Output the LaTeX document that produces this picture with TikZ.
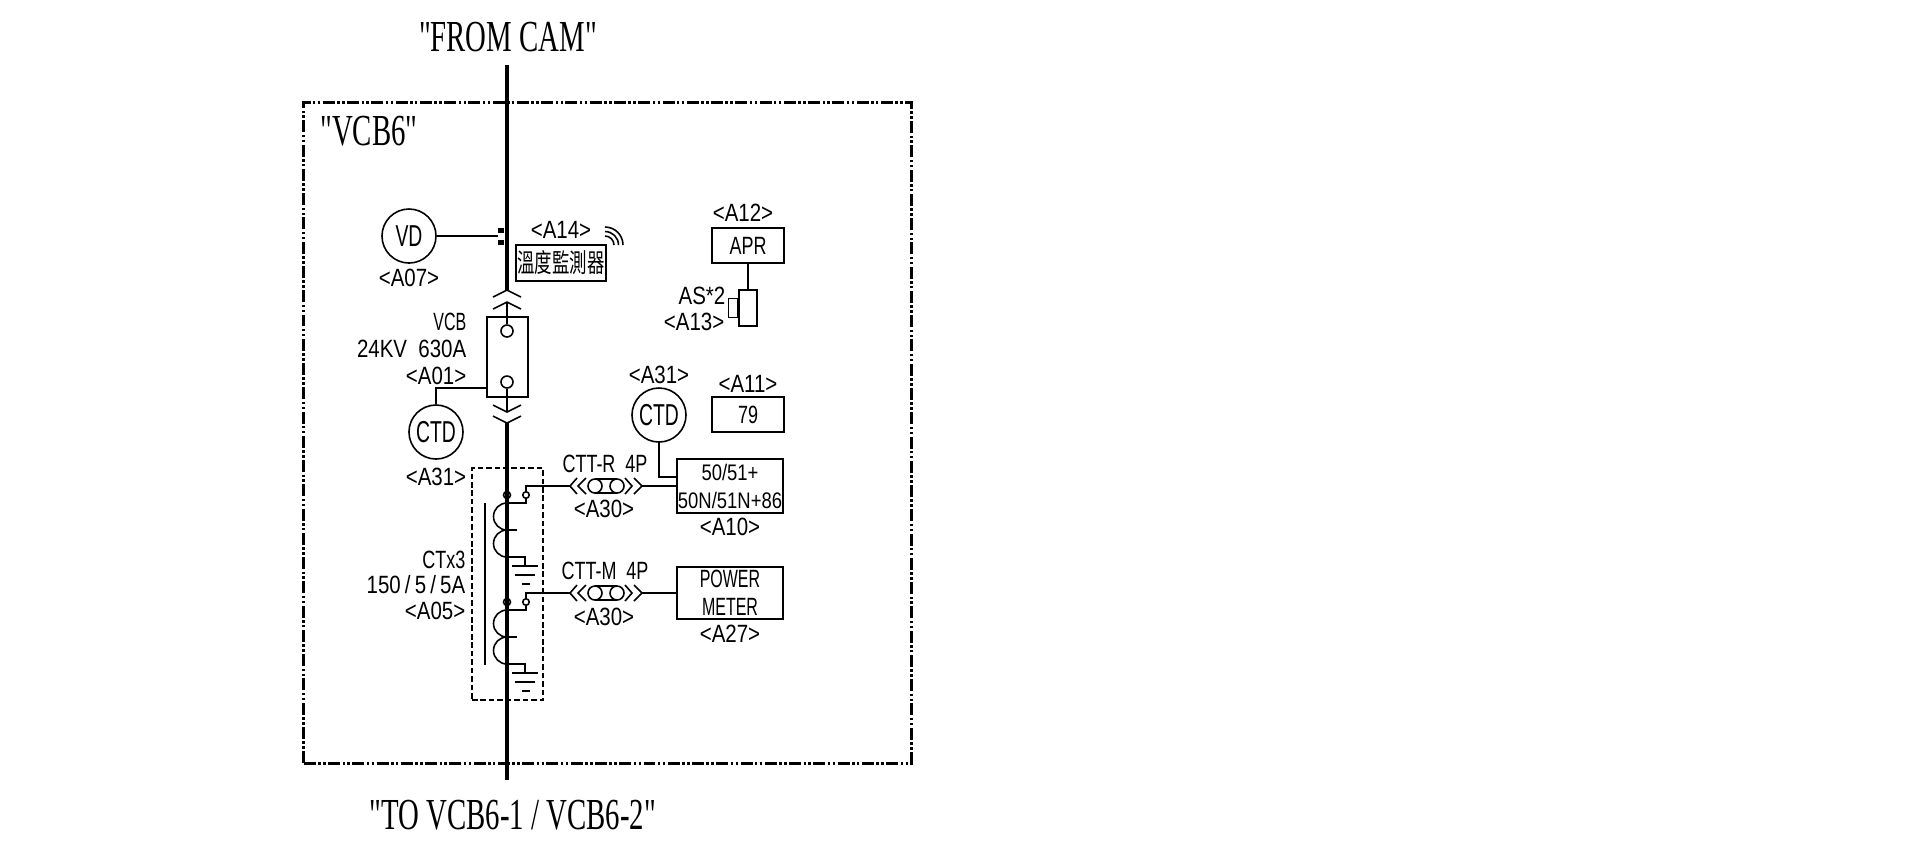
\documentclass[tikz,border=0pt]{standalone}
\usepackage{fontspec}
\setmainfont{Liberation Serif}
\newfontfamily\cadfont[FakeStretch=0.72]{Liberation Sans}
\newfontfamily\cadwide[FakeStretch=0.82]{Liberation Sans}
\newfontfamily\cadnarrow[FakeStretch=0.64]{Liberation Sans}
\newfontfamily\titlefont[FakeStretch=0.65]{Liberation Serif}
\newfontfamily\cjkfont[FakeStretch=0.67]{Noto Sans CJK TC}
\usetikzlibrary{positioning}

\tikzset{
    wire/.style={line width=0.45pt},
    tag/.style={font=\cadwide\fontsize{7.1pt}{8.2pt}\selectfont, inner sep=0pt, align=center},
    flush/.style={font=\cadfont\fontsize{7.1pt}{8.2pt}\selectfont, inner sep=0pt, align=right},
    title/.style={font=\titlefont\fontsize{12.6pt}{14pt}\selectfont, inner sep=0pt},
    meter/.style={circle, draw, wire, minimum size=0.54cm, inner sep=0pt, font=\cadnarrow\fontsize{8.6pt}{10pt}\selectfont},
    relaybox/.style={rectangle, draw, wire, inner sep=0pt, align=center, font=\cadfont\fontsize{7.1pt}{8.0pt}\selectfont},
    terminal/.style={circle, draw, wire, fill=white, minimum size=0.12cm, inner sep=0pt},
    term/.style={circle, draw, wire, fill=white, minimum size=0.065cm, inner sep=0pt},
    chev/.pic={\draw[wire] (-14,7) -- (0,0) -- (14,7);},
    plugset/.pic={
        \coordinate (-west) at (0,0);
        \coordinate (-east) at (72,0);
        \draw[wire] (7,-8) -- (0,0) -- (7,8);
        \draw[wire] (16,-8) -- (8,0) -- (16,8);
        \draw[wire] (25,-7) -- (47,-7);
        \draw[wire] (25,7) -- (47,7);
        \draw[wire, fill=white] (25,0) circle[radius=7];
        \draw[wire, fill=white] (47,0) circle[radius=7];
        \draw[wire] (55,-8) -- (62,0) -- (55,8);
        \draw[wire] (64,-8) -- (72,0) -- (64,8);
    },
    ctcoil/.pic={
        \draw[wire] (0,0) circle[radius=3.5];
        \node[term] (-term) at (19,0) {};
        \draw[wire] (-term) -- (19,8) -- (0,8) arc[start angle=270, end angle=90, radius=13.5] arc[start angle=270, end angle=90, radius=13.5] -- (18,62) -- (18,71);
        \draw[wire] (0,35) -- (10,35);
        \draw[wire] (5,71) -- (31,71);
        \draw[wire] (8,80) -- (28,80);
        \draw[wire] (15,89) -- (23,89);
    }
}

\begin{document}
\begin{tikzpicture}[x=0.01cm, y=-0.01cm]
    \useasboundingbox (0,0) rectangle (1920,850);

    % outer frame and titles
    \node[draw, line width=0.85pt, dash pattern=on 3.4pt off 0.7pt on 0.7pt off 0.7pt on 0.7pt off 0.7pt, minimum width=6.07cm, minimum height=6.6cm, inner sep=0pt] (panel) at (607.5,433) {};
    \node[title] (fromcam) at (508,37) {"FROM CAM"};
    \node[title] (panelname) at (369,131) {"VCB6"};
    \node[title] (tovcb) at (513,815) {"TO VCB6-1 / VCB6-2"};

    % bus
    \coordinate (busin) at (507,65);
    \coordinate (bustop) at (507,290);
    \coordinate (busbot) at (507,423);
    \coordinate (busout) at (507,780);
    \draw[line width=1.3pt] (busin) -- (bustop);
    \draw[line width=1.3pt] (busbot) -- (busout);

    % VD
    \node[meter] (vd) at (409,236) {VD};
    \node[tag, below=0.05cm of vd] (a07) {<A07>};
    \node[inner sep=0pt, fill, minimum width=0.055cm, minimum height=0.05cm] (tapa) at (501,230) {};
    \node[inner sep=0pt, fill, minimum width=0.055cm, minimum height=0.05cm] (tapb) at (501,242) {};
    \coordinate (tap) at (498,236);
    \draw[wire] (vd) -- (tap);

    % temperature monitor
    \node[relaybox, minimum width=0.9cm, minimum height=0.36cm, font=\cjkfont\fontsize{7.4pt}{8pt}\selectfont] (temp) at (561,263) {溫度監測器};
    \node[tag, above=0.05cm of temp] (a14) {<A14>};
    \foreach \r in {9,13.5,18}
        \draw[wire] (605,245-\r) arc[start angle=270, end angle=360, radius=\r];

    % VCB
    \node[rectangle, draw, wire, minimum width=0.41cm, minimum height=0.8cm, inner sep=0pt] (vcb) at (507.5,357) {};
    \node[terminal] (vcbup) at (507,331) {};
    \node[terminal] (vcbdn) at (507,382) {};
    \pic at (507,290) {chev};
    \pic at (507,302) {chev};
    \pic[yscale=-1] at (507,412) {chev};
    \pic[yscale=-1] at (507,423) {chev};
    \coordinate (plugup) at (507,302);
    \coordinate (plugdn) at (507,412);
    \draw[wire] (plugup) -- (vcbup);
    \draw[wire] (vcbdn) -- (plugdn);
    \node[flush, anchor=east, font=\cadnarrow\fontsize{7.1pt}{8.2pt}\selectfont] (vcbname) at (467,322) {VCB};
    \node[flush, anchor=east, font=\cadwide\fontsize{7.1pt}{8.2pt}\selectfont] (vcbrate) at (467,349) {24KV\ \ 630A};
    \node[tag, anchor=east] (a01) at (467,376) {<A01>};

    % CTD on VCB
    \node[meter] (ctda) at (436,432) {CTD};
    \node[tag, below=0.08cm of ctda] (a31a) {<A31>};
    \draw[wire] (vcb.west |- 0,388) -| (ctda);

    % APR
    \node[relaybox, minimum width=0.72cm, minimum height=0.35cm] (apr) at (748,245.5) {APR};
    \node[tag, above=0.055cm of apr, xshift=-0.05cm] (a12) {<A12>};
    \node[rectangle, draw, wire, minimum width=0.18cm, minimum height=0.36cm, inner sep=0pt] (as) at (748,308) {};
    \node[rectangle, draw, wire, minimum width=0.09cm, minimum height=0.19cm, inner sep=0pt, left=0pt of as] (asface) {};
    \draw[wire] (apr) -- (as);
    \node[tag, anchor=east] (asname) at (726,296) {AS*2};
    \node[tag, anchor=east] (a13) at (725,322) {<A13>};

    % 79 and CTD
    \node[relaybox, minimum width=0.72cm, minimum height=0.35cm] (reclose) at (748,414.5) {79};
    \node[tag, above=0.035cm of reclose] (a11) {<A11>};
    \node[meter] (ctdb) at (659,415) {CTD};
    \node[tag, above=0.025cm of ctdb] (a31b) {<A31>};

    % protection relay and meter
    \node[relaybox, minimum width=1.06cm, minimum height=0.54cm, font=\cadwide\fontsize{6.4pt}{8.0pt}\selectfont] (relay) at (730,486) {50/51+\\50N/51N+86};
    \node[tag, below=0.035cm of relay] (a10) {<A10>};
    \node[relaybox, minimum width=1.06cm, minimum height=0.52cm, font=\cadnarrow\fontsize{7.1pt}{8.0pt}\selectfont] (pmeter) at (730,593) {POWER\\METER};
    \node[tag, below=0.045cm of pmeter] (a27) {<A27>};
    \draw[wire] (ctdb) |- (relay.west |- 0,477);

    % CT
    \node[draw, line width=0.35pt, dash pattern=on 1.6pt off 0.8pt, minimum width=0.71cm, minimum height=2.32cm, inner sep=0pt] (ctbox) at (507.5,584) {};
    \coordinate (coreup) at (485,503);
    \coordinate (coredn) at (485,665);
    \draw[wire] (coreup) -- (coredn);
    \pic (ctr) at (507,495) {ctcoil};
    \pic (ctm) at (507,602) {ctcoil};
    \node[flush, anchor=east] (ctname) at (466,560) {CTx3};
    \node[flush, anchor=east, font=\cadwide\fontsize{7.1pt}{8.2pt}\selectfont] (ctrate) at (466,585) {150\,/\,5\,/\,5A};
    \node[tag, anchor=east] (a05) at (466,611) {<A05>};

    % test plugs
    \pic (plugr) at (570,486) {plugset};
    \pic (plugm) at (570,593) {plugset};
    \draw[wire] (ctr-term) |- (plugr-west);
    \draw[wire] (ctm-term) |- (plugm-west);
    \draw[wire] (plugr-east) -- (plugr-east -| relay.west);
    \draw[wire] (plugm-east) -- (plugm-east -| pmeter.west);
    \node[flush] (cttr) at (605,464) {CTT-R\ \ 4P};
    \node[flush] (cttm) at (605,571) {CTT-M\ \ 4P};
    \node[tag] (a30r) at (604,509) {<A30>};
    \node[tag] (a30m) at (604,617) {<A30>};
\end{tikzpicture}
\end{document}
